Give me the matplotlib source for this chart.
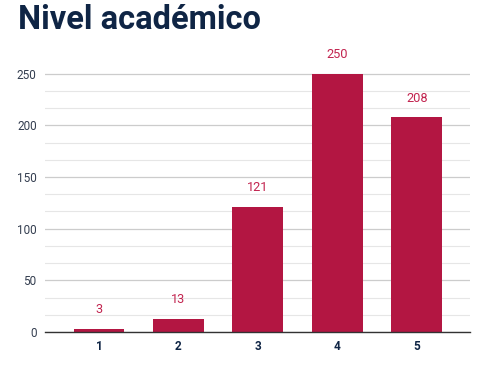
import matplotlib
matplotlib.use("Agg")
import matplotlib.pyplot as plt
from matplotlib.ticker import MultipleLocator

categories = ["1", "2", "3", "4", "5"]
values = [3, 13, 121, 250, 208]

bar_color = "#b31642"
label_color = "#c2244f"
navy = "#0f2545"

fig = plt.figure(figsize=(4.89, 3.71), dpi=100)
ax = fig.add_axes([45/489, 1 - 332/371, 425/489, (332 - 73.6)/371 / 250 * 262])
ax.set_ylim(0, 262)
x = list(range(1, len(categories) + 1))
bars = ax.bar(x, values, width=0.64, color=bar_color, zorder=3)
ax.set_xlim(0.32, 5.67)
ax.set_xticks(x)
ax.set_xticklabels(categories, fontfamily="Roboto", fontweight="bold", fontsize=8.5, color=navy)
ax.yaxis.set_major_locator(MultipleLocator(50))
ax.yaxis.set_minor_locator(MultipleLocator(50/3))
ax.tick_params(axis="y", which="both", length=0, labelsize=8.5, labelcolor="#333d4f", pad=6)
ax.tick_params(axis="x", length=0, pad=6)
for lab in ax.get_yticklabels():
    lab.set_fontfamily("Roboto")
ax.grid(axis="y", which="major", color="#cccccc", linewidth=0.9, zorder=0)
ax.grid(axis="y", which="minor", color="#e6e6e6", linewidth=0.8, zorder=0)
for s in ["top", "right", "left"]:
    ax.spines[s].set_visible(False)
ax.spines["bottom"].set_color("#333333")
ax.spines["bottom"].set_linewidth(1.0)
ax.spines["bottom"].set_zorder(4)

for xi, v in zip(x, values):
    ax.annotate(str(v), (xi, v), xytext=(0, 9), textcoords="offset points",
                ha="center", va="bottom", fontsize=9.2, color=label_color, fontfamily="Roboto")

fig.text(18/489, 1 - 20/371, "Nivel académico", fontfamily="Roboto", fontweight="bold",
         fontsize=23.5, color=navy, va="center", ha="left")

fig.savefig("out.png", dpi=100)
